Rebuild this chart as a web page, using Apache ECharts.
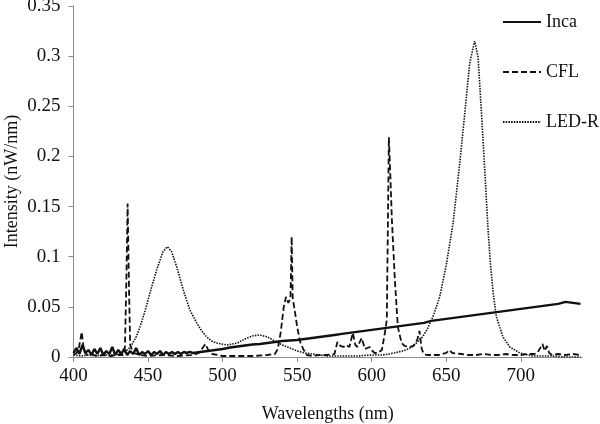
<!DOCTYPE html>
<html>
<head>
<meta charset="utf-8">
<script src="https://cdn.jsdelivr.net/npm/echarts@6/dist/echarts.min.js"></script>
<style>html,body{margin:0;padding:0;background:#fff}#c{width:600px;height:424px}</style>
</head>
<body>
<div id="c"></div>
<script>
// ---- data ----
const xTicks = [400, 450, 500, 550, 600, 650, 700];
const yTicks = [0, 0.05, 0.1, 0.15, 0.2, 0.25, 0.3, 0.35];

const incaNm = [400,402,404,406,408,410,412,414,416,418,420,422,424,426,428,430,432,434,436,438,440,442,444,446,448,450,452,454,456,458,460,462,464,466,468,470,472,474,476,478,480,
  485,490,495,500,505,510,515,520,525,530,535,540,545,550,555,560,565,570,575,580,585,590,595,600,605,610,615,620,625,630,635,640,645,650,655,660,665,670,675,680,685,690,695,700,705,710,715,720,725,730,735,740];
const incaVal = [0.004,0.009,0.003,0.012,0.004,0.007,0.002,0.008,0.003,0.009,0.002,0.006,0.003,0.010,0.002,0.007,0.003,0.008,0.002,0.006,0.003,0.009,0.002,0.005,0.003,0.006,0.002,0.005,0.003,0.006,0.002,0.005,0.003,0.005,0.003,0.005,0.003,0.005,0.004,0.005,0.004,
  0.005,0.006,0.007,0.008,0.0095,0.0105,0.0115,0.0125,0.013,0.014,0.015,0.016,0.0165,0.017,0.018,0.019,0.020,0.021,0.022,0.023,0.024,0.025,0.026,0.027,0.028,0.029,0.030,0.031,0.032,0.033,0.034,0.036,0.037,0.038,0.039,0.040,0.041,0.042,0.043,0.044,0.045,0.046,0.047,0.048,0.049,0.050,0.051,0.052,0.053,0.055,0.054,0.053];

const cflNm = [400,402,403.5,405.5,407,409,412,416,420,425,430,433,434.5,435.5,436.3,437.2,438,440,445,450,460,470,480,484,487,488.5,490,493,500,510,520,530,535,537,539,541,542.5,544,545.5,546.3,547,548.5,550,552,554,556.5,560,565,570,575,577,579,581,583,585,587.3,589,590.5,592,593.3,595.4,597,598.7,600.5,602,604,606.8,608.8,610.1,611.5,612.5,613.5,615.5,617.5,620,622,625,628,630.5,632,633.5,635,637,640,645,650,652,654,660,665,670,675,680,685,690,695,700,705,709,711,713,714.5,716,717.5,719,721,725,730,735,740];
const cflVal = [0.002,0.004,0.008,0.025,0.006,0.002,0.003,0.001,0.002,0.001,0.002,0.002,0.010,0.080,0.153,0.070,0.012,0.004,0.002,0.001,0.002,0.001,0.002,0.004,0.010,0.013,0.008,0.003,0.001,0.001,0.001,0.002,0.003,0.008,0.025,0.050,0.060,0.054,0.058,0.120,0.059,0.045,0.030,0.015,0.008,0.002,0.001,0.002,0.002,0.003,0.015,0.011,0.010,0.012,0.010,0.024,0.012,0.010,0.015,0.019,0.008,0.009,0.010,0.006,0.004,0.004,0.007,0.024,0.037,0.219,0.180,0.137,0.077,0.030,0.014,0.011,0.010,0.011,0.017,0.026,0.008,0.003,0.002,0.002,0.002,0.004,0.007,0.004,0.003,0.002,0.002,0.003,0.002,0.002,0.003,0.002,0.002,0.003,0.003,0.004,0.009,0.013,0.006,0.011,0.004,0.002,0.003,0.002,0.003,0.002];

const ledNm = [400,405,410,415,420,425,430,434,437,439,442,444.6,448,451.3,455.8,460,463,465.8,469.2,473.6,478,482.6,486,489.3,492.5,496,503,510,515,520,525,530,535,540,545,550,555,560,570,580,590,600,607,612,618,623,627,630,634,637,641,645.6,650,654.6,659,662.4,665.7,669,671.3,673.6,675.8,678,679.6,681.4,683.6,688,692.6,699.3,708,720,730,740];
const ledVal = [0.002,0.001,0.002,0.001,0.002,0.002,0.003,0.005,0.008,0.012,0.020,0.030,0.046,0.064,0.087,0.105,0.110,0.105,0.090,0.067,0.047,0.034,0.026,0.020,0.016,0.014,0.012,0.014,0.018,0.021,0.022,0.020,0.016,0.012,0.009,0.006,0.004,0.003,0.001,0.001,0.001,0.002,0.002,0.003,0.005,0.007,0.010,0.014,0.020,0.027,0.040,0.060,0.092,0.134,0.193,0.243,0.293,0.315,0.299,0.243,0.186,0.127,0.093,0.064,0.040,0.020,0.010,0.004,0.001,0.001,0.000,0.000];

const pairs = (xs, ys) => xs.map((x, i) => [x, ys[i]]);
const FONT = 'Liberation Serif';

const chart = echarts.init(document.getElementById('c'), null, {renderer: 'canvas'});
chart.setOption({
  animation: false,
  backgroundColor: '#ffffff',
  grid: {left: 73.5, right: 18, top: 6, bottom: 67, containLabel: false, outerBoundsMode: 'none'},
  legend: {
    orient: 'vertical', left: 502, top: 13, padding: 0,
    itemWidth: 38, itemHeight: 14, itemGap: 32,
    itemStyle: {opacity: 0},
    textStyle: {fontFamily: FONT, fontSize: 18, color: '#111'},
    data: ['Inca', 'CFL', 'LED-R']
  },
  xAxis: {
    type: 'value', min: 400, max: 741, interval: 50,
    name: 'Wavelengths (nm)', nameLocation: 'middle', nameGap: 48, nameMoveOverlap: false,
    nameTextStyle: {fontFamily: FONT, fontSize: 18, color: '#111'},
    axisLine: {lineStyle: {color: '#8c8c8c', width: 1}},
    axisTick: {show: true, length: 5, lineStyle: {color: '#8c8c8c'}, customValues: xTicks},
    axisLabel: {fontFamily: FONT, fontSize: 19, color: '#111', margin: 10, customValues: xTicks},
    splitLine: {show: false}
  },
  yAxis: {
    type: 'value', min: 0, max: 0.35, interval: 0.05,
    name: 'Intensity (nW/nm)', nameLocation: 'middle', nameGap: 52, nameMoveOverlap: false,
    nameTextStyle: {fontFamily: FONT, fontSize: 18, color: '#111'},
    axisLine: {show: true, lineStyle: {color: '#8c8c8c', width: 1}},
    axisTick: {show: true, length: 5, lineStyle: {color: '#8c8c8c'}, customValues: yTicks},
    axisLabel: {fontFamily: FONT, fontSize: 19, color: '#111', margin: 13, customValues: yTicks,
      formatter: v => String(Math.round(v * 100) / 100)},
    splitLine: {show: false}
  },
  series: [
    {name: 'Inca', type: 'line', data: pairs(incaNm, incaVal), symbol: 'none', showSymbol: false,
      lineStyle: {color: '#111', width: 2.4, type: 'solid'}, itemStyle: {color: '#111'}, z: 3},
    {name: 'CFL', type: 'line', data: pairs(cflNm, cflVal), symbol: 'none', showSymbol: false,
      lineStyle: {color: '#111', width: 1.8, type: [6, 3]}, itemStyle: {color: '#111'}, z: 2},
    {name: 'LED-R', type: 'line', data: pairs(ledNm, ledVal), symbol: 'none', showSymbol: false,
      lineStyle: {color: '#111', width: 1.6, type: [1.5, 1.2]}, itemStyle: {color: '#111'}, z: 1}
  ]
});
</script>
</body>
</html>
